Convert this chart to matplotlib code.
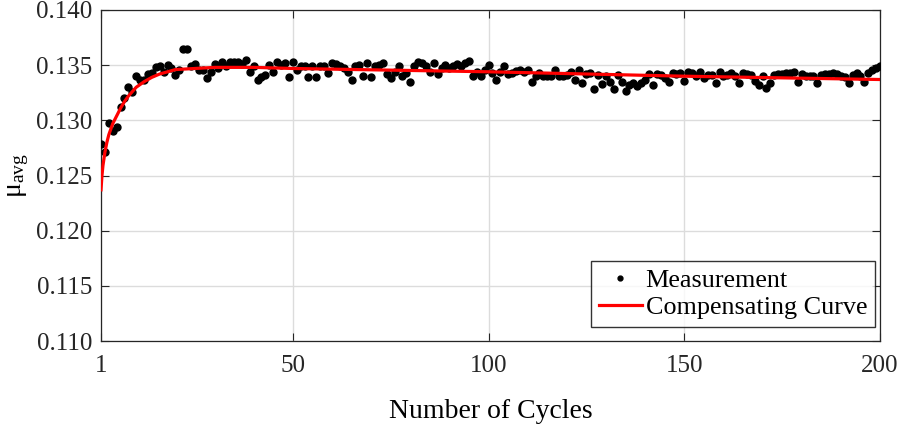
import matplotlib
matplotlib.use("Agg")
import matplotlib.pyplot as plt
from matplotlib.ticker import FormatStrFormatter

plt.rcParams['font.family'] = ['Liberation Serif', 'DejaVu Serif']
plt.rcParams['mathtext.fontset'] = 'custom'
plt.rcParams['mathtext.rm'] = 'Liberation Serif'
plt.rcParams['mathtext.it'] = 'Liberation Serif:italic'

# ---- data ----
cycles = list(range(1, 201))
mu_measured = [
    0.1279, 0.1271, 0.1298, 0.1290, 0.1294, 0.1312, 0.1320, 0.1330, 0.1326, 0.1340,
    0.1337, 0.1337, 0.1342, 0.1343, 0.1348, 0.1349, 0.1344, 0.1350, 0.1347, 0.1341,
    0.1346, 0.1365, 0.1365, 0.1349, 0.1351, 0.1346, 0.1346, 0.1338, 0.1344, 0.1351,
    0.1347, 0.1353, 0.1349, 0.1353, 0.1353, 0.1353, 0.1351, 0.1355, 0.1344, 0.1349,
    0.1337, 0.1339, 0.1341, 0.1350, 0.1344, 0.1353, 0.1350, 0.1352, 0.1339, 0.1353,
    0.1346, 0.1349, 0.1349, 0.1339, 0.1349, 0.1339, 0.1349, 0.1349, 0.1343, 0.1352,
    0.1351, 0.1349, 0.1347, 0.1344, 0.1337, 0.1349, 0.1350, 0.1340, 0.1352, 0.1339,
    0.1349, 0.1350, 0.1352, 0.1342, 0.1338, 0.1344, 0.1349, 0.1340, 0.1343, 0.1335,
    0.1349, 0.1353, 0.1352, 0.1349, 0.1344, 0.1352, 0.1342, 0.1347, 0.1350, 0.1347,
    0.1349, 0.1351, 0.1349, 0.1352, 0.1354, 0.1340, 0.1344, 0.1340, 0.1346, 0.1350,
    0.1343, 0.1337, 0.1344, 0.1349, 0.1342, 0.1343, 0.1345, 0.1346, 0.1344, 0.1346,
    0.1335, 0.1340, 0.1343, 0.1340, 0.1340, 0.1340, 0.1346, 0.1340, 0.1340, 0.1341,
    0.1344, 0.1337, 0.1346, 0.1334, 0.1342, 0.1343, 0.1328, 0.1341, 0.1333, 0.1340,
    0.1335, 0.1328, 0.1341, 0.1335, 0.1327, 0.1332, 0.1334, 0.1331, 0.1334, 0.1337,
    0.1342, 0.1332, 0.1342, 0.1341, 0.1338, 0.1335, 0.1343, 0.1342, 0.1343, 0.1336,
    0.1344, 0.1343, 0.1340, 0.1344, 0.1338, 0.1341, 0.1341, 0.1334, 0.1344, 0.1340,
    0.1341, 0.1343, 0.1340, 0.1334, 0.1343, 0.1342, 0.1341, 0.1336, 0.1332, 0.1340,
    0.1329, 0.1334, 0.1341, 0.1342, 0.1342, 0.1343, 0.1343, 0.1344, 0.1335, 0.1342,
    0.1340, 0.1340, 0.1340, 0.1334, 0.1341, 0.1342, 0.1342, 0.1343, 0.1342, 0.1340,
    0.1339, 0.1334, 0.1341, 0.1343, 0.1340, 0.1335, 0.1343, 0.1346, 0.1347, 0.1349,
]
curve_cycles = [1, 1.25, 1.5, 2, 2.5, 3, 4, 5, 6, 7, 8, 9, 10, 12, 14, 16, 18, 20,
                25, 30, 40, 50, 100, 150, 200]
curve_mu = [0.1237, 0.1250, 0.1259, 0.1271, 0.1280, 0.1287, 0.1297, 0.1304, 0.1311,
            0.1317, 0.1322, 0.1326, 0.1330, 0.1335, 0.1339, 0.1342, 0.1344, 0.1346,
            0.1347, 0.1348, 0.1348, 0.1347, 0.1344, 0.1340, 0.1337]
xticks = [1, 50, 100, 150, 200]
yticks = [0.110, 0.115, 0.120, 0.125, 0.130, 0.135, 0.140]

# ---- figure ----
fig = plt.figure(figsize=(8.98, 4.28), dpi=100)
ax = fig.add_axes([101/898, 1-341/428, 779/898, 331/428])

ax.plot(cycles, mu_measured, linestyle='none', marker='o', markersize=5.0,
        color='black', label='Measurement', zorder=3)
ax.plot(curve_cycles, curve_mu, color='red', linewidth=2.3,
        label='Compensating Curve', zorder=4)

ax.set_xlim(1, 200)
ax.set_ylim(0.110, 0.140)
ax.set_xticks(xticks)
ax.set_yticks(yticks)
ax.yaxis.set_major_formatter(FormatStrFormatter('%.3f'))
ax.grid(True, color='#dcdcdc', linewidth=1.0)
ax.set_axisbelow(True)

ax.tick_params(direction='in', length=6, width=0.8, colors='#262626',
               labelsize=18, top=True, right=True)
ax.tick_params(axis='x', pad=10)
ax.tick_params(axis='y', pad=6)
for s in ax.spines.values():
    s.set_color('#262626')
    s.set_linewidth(0.9)

ax.set_xlabel('Number of Cycles', fontsize=20, labelpad=16)
ax.set_ylabel(r'$\mathrm{μ}_{\mathrm{avg}}$', fontsize=20, labelpad=4)

leg = ax.legend(loc='lower right', bbox_to_anchor=(0.9936, 0.042),
                borderaxespad=0, fontsize=18.8, frameon=True, fancybox=False,
                edgecolor='black', handlelength=1.65, handletextpad=0.15,
                labelspacing=0.15, borderpad=0.3, markerscale=0.7)
leg.get_frame().set_linewidth(1.0)

fig.savefig('out.png', dpi=100)
